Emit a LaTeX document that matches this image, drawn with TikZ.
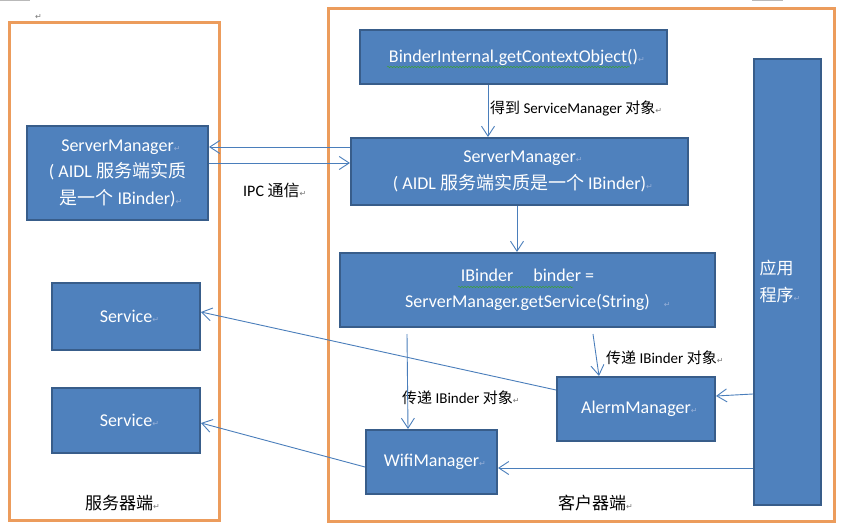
\documentclass[tikz,border=0pt]{standalone}
\usepackage{fontspec}
\setmainfont{Carlito}
\newfontfamily\cjk{Noto Sans CJK SC}
\newfontfamily\djv{DejaVu Sans}
\usetikzlibrary{arrows.meta,calc,decorations.pathmorphing}
\definecolor{boxfill}{RGB}{79,129,189}
\definecolor{boxline}{RGB}{56,93,138}
\definecolor{frameor}{RGB}{236,156,92}
\definecolor{arrcol}{RGB}{74,126,187}
\definecolor{retg}{RGB}{120,120,120}
\definecolor{retw}{RGB}{150,175,215}
\definecolor{wavy}{RGB}{60,160,60}
\newcommand\zhs[1]{{\cjk #1}}
\newcommand\rtg{\rlap{\color{retg}\djv\fontsize{8}{8}\selectfont ↵}}
\newcommand\rtw{\rlap{\color{retw}\djv\fontsize{8}{8}\selectfont ↵}}
\begin{document}
\begin{tikzpicture}[x=1pt,y=-1pt,
  bluebox/.style={draw=boxline, fill=boxfill, line width=2pt, text=white, inner sep=0pt, align=center, font=\fontsize{18}{27}\selectfont},
  frame/.style={draw=frameor, line width=3pt},
  conn/.style={draw=arrcol, line width=0.9pt, -{Straight Barb[length=10pt,width=13pt,line width=0.9pt]}},
  lbl/.style={font=\fontsize{15}{18}\selectfont, inner sep=0pt, anchor=west},
  wave/.style={draw=wavy, line width=0.5pt, decorate, decoration={snake, amplitude=0.7pt, segment length=3pt}}
]
\useasboundingbox (0,0) rectangle (864,532);
\fill[white] (0,0) rectangle (864,532);
\fill[gray!55] (0,0) rectangle (30,1.5);
\fill[gray!55] (752,0) rectangle (783,1.5);
\node[inner sep=0pt] (topret) at (35,17) {\rtg};

% frames
\draw[frame] (9,23) rectangle (219,520);
\draw[frame] (328,9) rectangle (834,521);

% server side
\node[bluebox, minimum width=181pt, minimum height=94pt, font=\fontsize{18}{26.5}\selectfont] (sml) at (117.5,173)
  {ServerManager\rtw\\( AIDL \zhs{服务端实质}\\\zhs{是一个} IBinder)\rtw};
\node[bluebox, minimum width=148pt, minimum height=67pt] (s1) at (126,316.5) {Service\rtw};
\node[bluebox, minimum width=148pt, minimum height=65pt] (s2) at (126,420.5) {Service\rtw};

% client side
\node[bluebox, minimum width=307pt, minimum height=54pt] (bi) at (513.5,57) {BinderInternal.getContextObject()\rtw};
\node[bluebox, minimum width=337pt, minimum height=67pt] (smr) at (519.5,171.5)
  {ServerManager\rtw\\( AIDL \zhs{服务端实质是一个} IBinder)\rtw};
\node[bluebox, minimum width=375pt, minimum height=74pt, font=\fontsize{18}{26}\selectfont] (ib) at (527.5,290)
  {IBinder\hspace{20pt}binder =\\ServerManager.getService(String)\rlap{\hspace{14pt}\rtw}};
\node[bluebox, minimum width=67pt, minimum height=446pt] (app) at (787.5,282) {};
\node[text=white, align=left, inner sep=0pt, font=\fontsize{17}{27}\selectfont] (apptxt) at (776.5,281.5) {\zhs{应用}\\\zhs{程序}\rtw};
\node[bluebox, minimum width=158pt, minimum height=64pt] (am) at (636,409) {AlermManager\rtw};
\node[bluebox, minimum width=131pt, minimum height=64pt] (wifi) at (431.5,462) {WifiManager\rtw};

% wavy spell-check underlines
\draw[wave] (387,67) -- (630,67);
\draw[wave] (458,287) -- (573,287);

% labels
\node[lbl] (lget) at (490,108) {\zhs{得到} ServiceManager \zhs{对象}\rtg};
\node[lbl, font=\fontsize{16}{18}\selectfont] (lipc) at (243,190) {IPC \zhs{通信}\rtg};
\node[lbl] (lpass1) at (606,358) {\zhs{传递} IBinder \zhs{对象}\rtg};
\node[lbl] (lpass2) at (402,398) {\zhs{传递} IBinder \zhs{对象}\rtg};
\node[lbl, font=\fontsize{17}{18}\selectfont] (lsrv) at (85,503) {\zhs{服务器端}\rtg};
\node[lbl, font=\fontsize{17}{18}\selectfont] (lcli) at (558,503) {\zhs{客户器端}\rtg};

% connectors
\draw[conn] (smr.west |- 0,147) -- (sml.east |- 0,147);
\draw[conn] (sml.east |- 0,163) -- (smr.west |- 0,163);
\draw[conn] (bi.south -| 488,0) -- (smr.north -| 488,0);
\draw[conn] (smr.south -| 517,0) -- (ib.north -| 517,0);
\draw[conn] ($(ib.south -| 407,0)+(0,6)$) -- (wifi.north -| 408,0);
\draw[conn] ($(ib.south -| 593,0)+(0,6)$) -- (am.north -| 599,0);
\draw[conn] (am.west |- 0,390) -- (s1.east |- 0,312);
\draw[conn] (wifi.west |- 0,467) -- (s2.east |- 0,423);
\draw[conn] (app.west |- 0,394) -- (am.east |- 0,396);
\draw[conn] (app.west |- 0,468) -- (wifi.east |- 0,468);
\end{tikzpicture}
\end{document}
